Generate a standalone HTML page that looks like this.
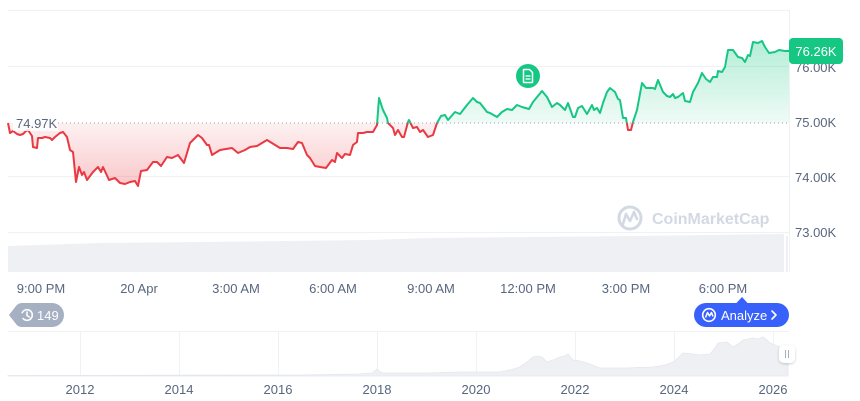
<!DOCTYPE html>
<html><head><meta charset="utf-8"><style>
html,body{margin:0;padding:0;background:#fff;}
svg{display:block;}
text{font-family:"Liberation Sans",Arial,sans-serif;}
</style></head><body>
<svg width="860" height="401" viewBox="0 0 860 401" xmlns="http://www.w3.org/2000/svg" xmlns:xlink="http://www.w3.org/1999/xlink">
<defs>
<linearGradient id="gG" gradientUnits="userSpaceOnUse" x1="0" y1="41" x2="0" y2="123">
<stop offset="0" stop-color="#16c784" stop-opacity="0.32"/>
<stop offset="1" stop-color="#16c784" stop-opacity="0.07"/>
</linearGradient>
<linearGradient id="gR" gradientUnits="userSpaceOnUse" x1="0" y1="123" x2="0" y2="186">
<stop offset="0" stop-color="#ea3943" stop-opacity="0.07"/>
<stop offset="1" stop-color="#ea3943" stop-opacity="0.28"/>
</linearGradient>
<clipPath id="cTop"><rect x="0" y="0" width="860" height="123"/></clipPath>
<clipPath id="cBot"><rect x="0" y="123" width="860" height="200"/></clipPath>
<filter id="sh" x="-50%" y="-50%" width="200%" height="200%"><feDropShadow dx="0" dy="1" stdDeviation="1.2" flood-color="#000" flood-opacity="0.2"/></filter>
<path id="areaP" d="M8,123 L10,133 L13,131 L17,134 L20,135 L23,134 L26,131 L28,130 L32,136 L33,147 L37,148 L38,138 L42,138 L45,137 L50,138 L52,140 L55,137 L60,133 L63,132 L67,137 L70,150 L73,152 L76,182 L79,167 L82,175 L84,172 L87,180 L93,172 L98,167 L101,172 L103,167 L109,180 L115,178 L120,183 L125,184 L130,182 L135,181 L138,186 L141,171 L147,170 L153,162 L157,162 L161,166 L167,157 L172,158 L178,155 L184,163 L190,143 L193,140 L198,135 L202,138 L207,145 L209,145 L212,155 L220,150 L232,148 L238,153 L245,150 L250,147 L257,146 L267,140 L280,148 L287,148 L293,149 L298,142 L302,143 L307,155 L310,158 L315,166 L320,167 L326,168 L332,160 L335,162 L337,153 L342,158 L345,154 L350,155 L353,145 L357,142 L358,133 L363,133 L367,132 L373,132 L377,125 L379,98 L383,110 L387,118 L388,123 L393,128 L395,135 L398,130 L402,137 L404,137 L408,122 L409,120 L413,128 L417,127 L420,132 L423,130 L428,137 L433,135 L437,123 L441,116 L445,115 L448,120 L455,112 L460,114 L467,105 L473,98 L477,102 L480,103 L487,112 L490,113 L497,117 L502,112 L507,109 L512,110 L517,105 L522,107 L529,109 L533,102 L542,91 L547,97 L552,107 L557,103 L560,105 L565,110 L568,103 L573,117 L575,117 L578,108 L582,106 L587,114 L592,105 L594,110 L597,108 L600,113 L603,103 L607,92 L610,88 L615,92 L618,99 L620,100 L623,118 L626,118 L628,130 L631,130 L633,122 L637,110 L642,83 L646,88 L653,88 L655,89 L658,80 L663,92 L667,96 L670,97 L673,94 L675,98 L678,97 L683,93 L685,101 L690,102 L693,92 L698,83 L702,73 L706,79 L710,82 L713,77 L717,77 L718,71 L722,72 L725,67 L728,50 L733,50 L738,57 L742,58 L745,62 L748,55 L750,56 L753,42 L758,43 L762,41 L765,47 L769,53 L775,52 L779,50 L785,51 L789,51 L789,123 Z"/>
<path id="lineP" d="M8,123 L10,133 L13,131 L17,134 L20,135 L23,134 L26,131 L28,130 L32,136 L33,147 L37,148 L38,138 L42,138 L45,137 L50,138 L52,140 L55,137 L60,133 L63,132 L67,137 L70,150 L73,152 L76,182 L79,167 L82,175 L84,172 L87,180 L93,172 L98,167 L101,172 L103,167 L109,180 L115,178 L120,183 L125,184 L130,182 L135,181 L138,186 L141,171 L147,170 L153,162 L157,162 L161,166 L167,157 L172,158 L178,155 L184,163 L190,143 L193,140 L198,135 L202,138 L207,145 L209,145 L212,155 L220,150 L232,148 L238,153 L245,150 L250,147 L257,146 L267,140 L280,148 L287,148 L293,149 L298,142 L302,143 L307,155 L310,158 L315,166 L320,167 L326,168 L332,160 L335,162 L337,153 L342,158 L345,154 L350,155 L353,145 L357,142 L358,133 L363,133 L367,132 L373,132 L377,125 L379,98 L383,110 L387,118 L388,123 L393,128 L395,135 L398,130 L402,137 L404,137 L408,122 L409,120 L413,128 L417,127 L420,132 L423,130 L428,137 L433,135 L437,123 L441,116 L445,115 L448,120 L455,112 L460,114 L467,105 L473,98 L477,102 L480,103 L487,112 L490,113 L497,117 L502,112 L507,109 L512,110 L517,105 L522,107 L529,109 L533,102 L542,91 L547,97 L552,107 L557,103 L560,105 L565,110 L568,103 L573,117 L575,117 L578,108 L582,106 L587,114 L592,105 L594,110 L597,108 L600,113 L603,103 L607,92 L610,88 L615,92 L618,99 L620,100 L623,118 L626,118 L628,130 L631,130 L633,122 L637,110 L642,83 L646,88 L653,88 L655,89 L658,80 L663,92 L667,96 L670,97 L673,94 L675,98 L678,97 L683,93 L685,101 L690,102 L693,92 L698,83 L702,73 L706,79 L710,82 L713,77 L717,77 L718,71 L722,72 L725,67 L728,50 L733,50 L738,57 L742,58 L745,62 L748,55 L750,56 L753,42 L758,43 L762,41 L765,47 L769,53 L775,52 L779,50 L785,51 L789,51"/>
</defs>

<!-- grid -->
<g stroke="#eff2f5" stroke-width="1">
<line x1="8" y1="10.5" x2="789" y2="10.5"/>
<line x1="8" y1="66.5" x2="789" y2="66.5"/>
<line x1="8" y1="176.5" x2="789" y2="176.5"/>
<line x1="8" y1="232.5" x2="789" y2="232.5"/>
<line x1="789.5" y1="10" x2="789.5" y2="272"/>
</g>

<!-- volume -->
<polygon points="8,246 100,243 200,242 370,240 430,238 640,236 784,234 784,272 8,272" fill="#eef0f4"/>
<rect x="786" y="236" width="2" height="36" fill="#eef0f4"/>

<!-- watermark -->
<circle cx="630" cy="218" r="11" fill="none" stroke="#d3d9e4" stroke-width="3"/>
<path d="M623,224 L626,214 L630,221 L634,212 L637,219" fill="none" stroke="#d3d9e4" stroke-width="2.6" stroke-linejoin="round" stroke-linecap="round"/>
<text x="652" y="224" font-size="16" font-weight="bold" fill="#d3d9e4">CoinMarketCap</text>

<!-- area fills -->
<use href="#areaP" xlink:href="#areaP" fill="url(#gG)" clip-path="url(#cTop)"/>
<use href="#areaP" xlink:href="#areaP" fill="url(#gR)" clip-path="url(#cBot)"/>

<!-- baseline -->
<line x1="58" y1="123" x2="789" y2="123" stroke="#9aa3b2" stroke-width="1" stroke-dasharray="1 3"/>

<!-- line -->
<use href="#lineP" xlink:href="#lineP" fill="none" stroke="#16c784" stroke-width="2" stroke-linejoin="round" clip-path="url(#cTop)"/>
<use href="#lineP" xlink:href="#lineP" fill="none" stroke="#ea3943" stroke-width="2" stroke-linejoin="round" clip-path="url(#cBot)"/>

<!-- start price label -->
<rect x="13" y="115" width="45" height="16" fill="#ffffff" fill-opacity="0.8"/>
<text x="16" y="128" font-size="13" fill="#58667e">74.97K</text>

<!-- doc icon -->
<circle cx="528" cy="76" r="12" fill="#16c784"/>
<path d="M523.5,69.5 h6 l3,3 v10 h-9 z" fill="none" stroke="#fff" stroke-width="1.5" stroke-linejoin="round"/>
<line x1="525.5" y1="76" x2="530.5" y2="76" stroke="#fff" stroke-width="1.3"/>
<line x1="525.5" y1="79" x2="530.5" y2="79" stroke="#fff" stroke-width="1.3"/>

<!-- right axis -->
<g font-size="13" fill="#58667e">
<text x="795" y="72">76.00K</text>
<text x="795" y="127">75.00K</text>
<text x="795" y="182">74.00K</text>
<text x="795" y="237">73.00K</text>
</g>
<rect x="789" y="38" width="54" height="26" rx="4" fill="#16c784"/>
<text x="816" y="56" font-size="13" fill="#fff" text-anchor="middle">76.26K</text>

<!-- x axis -->
<g font-size="13" fill="#58667e" text-anchor="middle">
<text x="41" y="293">9:00 PM</text>
<text x="139" y="293">20 Apr</text>
<text x="236" y="293">3:00 AM</text>
<text x="333" y="293">6:00 AM</text>
<text x="431" y="293">9:00 AM</text>
<text x="528" y="293">12:00 PM</text>
<text x="626" y="293">3:00 PM</text>
<text x="723" y="293">6:00 PM</text>
</g>

<!-- 149 badge -->
<path d="M9,315 L16,306 Q18,303 22,303 L52,303 A12,12 0 0 1 52,327 L22,327 Q18,327 16,324 Z" fill="#a6b0c3"/>
<circle cx="27" cy="315" r="5.3" fill="none" stroke="#fff" stroke-width="1.6" stroke-dasharray="28 5" transform="rotate(200 27 315)"/>
<path d="M27,312 v3.5 l2.3,1.5" fill="none" stroke="#fff" stroke-width="1.5" stroke-linecap="round"/>
<text x="37" y="320" font-size="13" fill="#fff">149</text>

<!-- Analyze button -->
<path d="M736,303.5 L742,297 L748,303.5 Z" fill="#3861fb"/>
<rect x="694" y="303" width="95" height="24" rx="12" fill="#3861fb"/>
<circle cx="709" cy="315" r="6.3" fill="none" stroke="#fff" stroke-width="1.6"/>
<path d="M705.5,317.5 L707.5,312.5 L709.5,316 L711.5,312.5 L713,316.5" fill="none" stroke="#fff" stroke-width="1.5" stroke-linejoin="round"/>
<text x="721" y="320" font-size="13" fill="#fff">Analyze</text>
<path d="M772,311 L776,315 L772,319" fill="none" stroke="#fff" stroke-width="1.6" stroke-linecap="round" stroke-linejoin="round"/>

<!-- mini chart -->
<g stroke="#eff2f5" stroke-width="1">
<line x1="8" y1="331.5" x2="789" y2="331.5"/>
<line x1="80.5" y1="331" x2="80.5" y2="376"/>
<line x1="179.5" y1="331" x2="179.5" y2="376"/>
<line x1="278.5" y1="331" x2="278.5" y2="376"/>
<line x1="377.5" y1="331" x2="377.5" y2="376"/>
<line x1="476.5" y1="331" x2="476.5" y2="376"/>
<line x1="575.5" y1="331" x2="575.5" y2="376"/>
<line x1="674.5" y1="331" x2="674.5" y2="376"/>
<line x1="773.5" y1="331" x2="773.5" y2="376"/>
</g>
<path d="M8,376 L8,375.5 L300,375 L360,374 L372,373 L377,369 L380,372 L383,373 L427,373 L460,372 L500,372 L510,370 L520,367 L527,362 L533,357 L538,356 L542,357 L547,362 L553,360 L560,357 L565,356 L568,354 L573,360 L580,361 L587,363 L600,368 L627,368 L653,367 L665,365 L673,362 L678,358 L683,353 L693,354 L700,355 L710,354 L715,348 L718,343 L727,342 L733,347 L738,344 L743,340 L753,338 L758,339 L763,337 L767,340 L770,343 L775,345 L780,347 L788,348 L788,376 Z" fill="#eef0f4" stroke="#e3e7ed" stroke-width="0.8"/>
<rect x="779" y="345" width="16" height="18" rx="5" fill="#fff" filter="url(#sh)"/>
<line x1="785.5" y1="350" x2="785.5" y2="358" stroke="#a6b0c3" stroke-width="1"/>
<line x1="788.5" y1="350" x2="788.5" y2="358" stroke="#a6b0c3" stroke-width="1"/>

<g font-size="13" fill="#58667e" text-anchor="middle">
<text x="80" y="394">2012</text>
<text x="179" y="394">2014</text>
<text x="278" y="394">2016</text>
<text x="377" y="394">2018</text>
<text x="476" y="394">2020</text>
<text x="575" y="394">2022</text>
<text x="674" y="394">2024</text>
<text x="773" y="394">2026</text>
</g>
</svg>
</body></html>
